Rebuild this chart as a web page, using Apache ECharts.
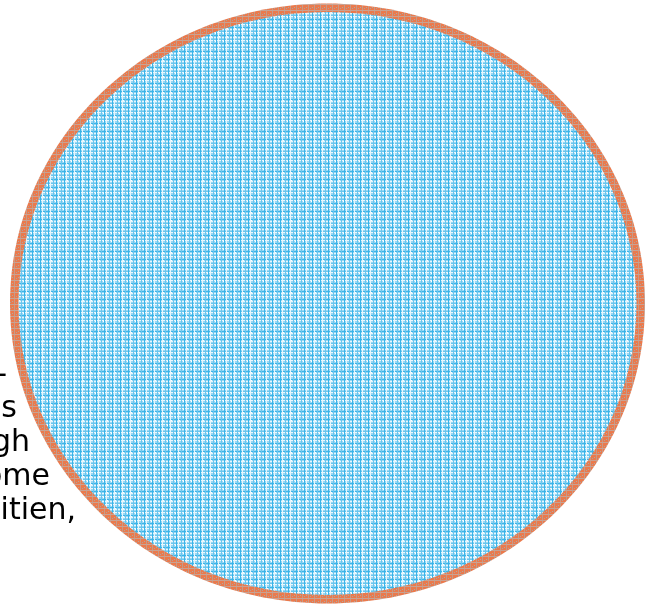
<!DOCTYPE html>
<html>
<head>
<meta charset="utf-8">
<script src="https://cdn.jsdelivr.net/npm/echarts@6/dist/echarts.min.js"></script>
<style>
  html, body { margin: 0; padding: 0; background: #fff; }
  #chart { width: 657px; height: 607px; }
</style>
</head>
<body>
<div id="chart"></div>
<script>
// one big bubble in the middle, a wrapped text running off the left edge
var points = [[1, 1]];
var ringSize = [635, 600];
var fillSize = [618, 583];
var textLines = ['-', 's', 'gh', 'ome', 'itien,'];
var lineEnds = [7, 17, 30, 50, 76];

// small hatch tiles used as pattern fills (plaid look)
function makeTile(size, base, marks) {
    var cv = document.createElement('canvas');
    cv.width = size;
    cv.height = size;
    var ctx = cv.getContext('2d');
    ctx.fillStyle = base;
    ctx.fillRect(0, 0, size, size);
    marks.forEach(function (m) {
        ctx.fillStyle = m[4];
        ctx.fillRect(m[0], m[1], m[2], m[3]);
    });
    return { image: cv, repeat: 'repeat' };
}

var fillPattern = makeTile(8, '#9ad8f4', [
    [0, 0, 8, 1, '#eaf7fd'],
    [0, 5, 8, 1, '#e6f6fd'],
    [0, 3, 8, 1, '#3ab4e8'],
    [0, 7, 8, 1, '#6ac6ee'],
    [0, 0, 1, 8, '#3ab4e8'],
    [5, 0, 1, 8, '#6ac6ee'],
    [2, 0, 1, 8, '#e6f6fd'],
    [3, 4, 1, 1, '#ffffff'],
    [7, 1, 1, 1, '#ffffff']
]);

var ringPattern = makeTile(6, '#ea7a4d', [
    [2, 0, 1, 6, '#c79a86'],
    [0, 4, 6, 1, '#c9a292'],
    [0, 1, 1, 1, '#b0a7a2'],
    [4, 2, 1, 1, '#aaa3a0']
]);

var myChart = echarts.init(document.getElementById('chart'));

var texts = textLines.map(function (t, i) {
    return {
        type: 'text',
        z: 0,
        x: lineEnds[i],
        y: 375 + i * 34,
        style: {
            text: t,
            align: 'right',
            verticalAlign: 'middle',
            fontFamily: 'DejaVu Sans',
            fontSize: 30,
            fill: '#000'
        }
    };
});

var option = {
    animation: false,
    grid: { left: 0, top: 0, width: 655, height: 608 },
    xAxis: { type: 'value', min: 0, max: 2, show: false },
    yAxis: { type: 'value', min: 0, max: 2, show: false },
    graphic: texts,
    series: [
        {
            type: 'custom',
            data: points,
            encode: { x: 0, y: 1 },
            z: 2,
            renderItem: function (params, api) {
                var c = api.coord([api.value(0), api.value(1)]);
                return {
                    type: 'group',
                    children: [
                        {
                            type: 'ellipse',
                            shape: { cx: c[0], cy: c[1], rx: ringSize[0] / 2, ry: ringSize[1] / 2 },
                            style: { fill: ringPattern }
                        },
                        {
                            type: 'ellipse',
                            shape: { cx: c[0], cy: c[1], rx: fillSize[0] / 2, ry: fillSize[1] / 2 },
                            style: { fill: fillPattern }
                        }
                    ]
                };
            }
        }
    ]
};
myChart.setOption(option);
</script>
</body>
</html>
